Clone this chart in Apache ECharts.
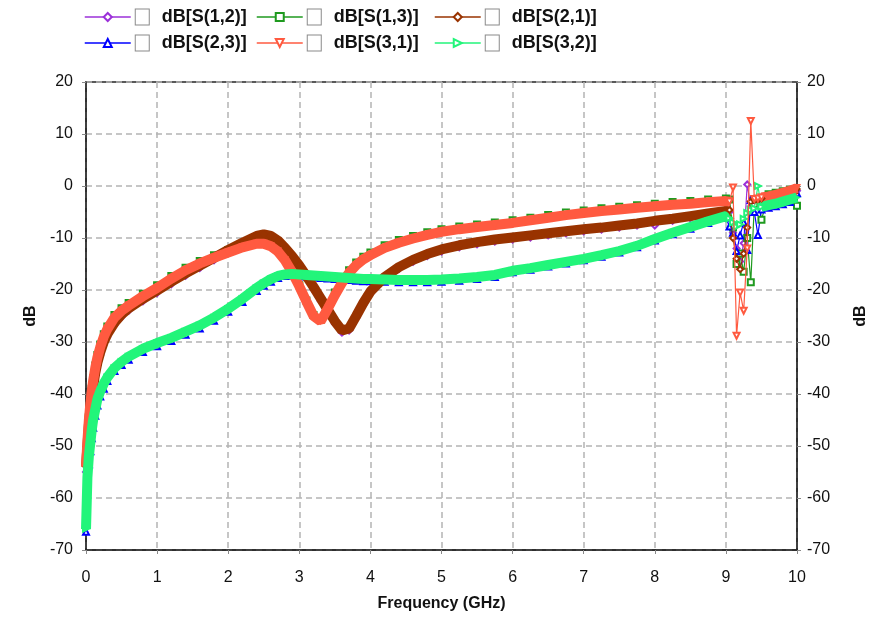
<!DOCTYPE html>
<html>
<head>
<meta charset="utf-8">
<script src="https://cdn.jsdelivr.net/npm/echarts@6/dist/echarts.min.js"></script>
<style>
  html, body { margin: 0; padding: 0; background: #fff; }
  #chart { width: 870px; height: 617px; }
</style>
</head>
<body>
<div id="chart"></div>
<script>
// frequency points (GHz)
var freq = [0, 0.02, 0.04, 0.06, 0.08, 0.1, 0.13, 0.16, 0.2, 0.25, 0.3, 0.4, 0.5, 0.6, 0.8,
  1.0, 1.2, 1.4, 1.6, 1.8, 2.0, 2.2, 2.4,
  2.5, 2.6, 2.7, 2.8, 2.9, 3.0, 3.1, 3.2, 3.3, 3.4, 3.5, 3.6, 3.7, 3.8, 3.9, 4.0,
  4.2, 4.4, 4.6, 4.8, 5.0,
  5.25, 5.5, 5.75, 6.0, 6.25, 6.5, 6.75, 7.0, 7.25, 7.5, 7.75, 8.0, 8.25, 8.5, 8.75, 9.0,
  9.05, 9.1, 9.15, 9.2, 9.25, 9.3, 9.35, 9.4, 9.45,
  9.5, 9.6, 9.7, 9.8, 9.9, 10.0];

var s12 = [-55, -50.5, -46.5, -43.5, -41, -39, -36.5, -34.5, -32.5, -30.5, -29, -26.8, -25.2, -24, -22.2,
  -20.6, -18.9, -17.3, -15.8, -14.3, -12.8, -11.4, -10.1,
  -9.8, -10.1, -11.0, -12.4, -14.0, -15.8, -17.8, -19.9, -22.1, -24.3, -26.5, -28.2, -27.8, -25.4, -22.9, -20.7,
  -17.9, -16.0, -14.6, -13.5, -12.6,
  -11.8, -11.2, -10.7, -10.3, -9.9, -9.5, -9.1, -8.7, -8.4, -8.0, -7.6, -7.6, -6.7, -6.2, -5.7, -5.2,
  -5.0, -9, -12, -14.5, -11, 0.3, -4, -3.2, -3.0,
  -2.8, -2.5, -2.2, -1.8, -1.4, -0.9];

var s13 = [-53, -48.5, -44.5, -41.5, -39, -37, -34.5, -32.5, -30.5, -28.5, -27, -24.8, -23.5, -22.5, -20.7,
  -19.1, -17.3, -15.7, -14.4, -13.3, -12.3, -11.3, -10.6,
  -10.6, -11.1, -12.2, -14.0, -16.4, -19.1, -22.0, -24.8, -25.7, -23.2, -20.5, -18.1, -16.2, -14.7, -13.6, -12.8,
  -11.4, -10.4, -9.6, -8.9, -8.3,
  -7.8, -7.4, -7.0, -6.6, -6.1, -5.6, -5.1, -4.7, -4.3, -4.0, -3.7, -3.4, -3.1, -2.9, -2.6, -2.4,
  -2.6, -8, -15, -13, -16.5, -10, -18.5, -3.5, -2.5,
  -6.5, -1.6, -1.3, -1.0, -0.7, -3.8];

var s21 = [-54, -50, -46, -43, -40.5, -38.5, -36, -34, -32, -30, -28.5, -26.3, -24.7, -23.5, -21.7,
  -20.1, -18.4, -16.8, -15.3, -13.8, -12.3, -10.9, -9.6,
  -9.3, -9.6, -10.5, -11.9, -13.5, -15.3, -17.3, -19.4, -21.6, -23.8, -26.0, -27.8, -27.4, -25.0, -22.5, -20.3,
  -17.5, -15.6, -14.2, -13.1, -12.2,
  -11.4, -10.8, -10.3, -9.9, -9.5, -9.1, -8.7, -8.3, -8.0, -7.6, -7.2, -6.7, -6.3, -5.8, -5.3, -4.8,
  -4.6, -10, -14, -16, -13, -8, -3, -2.7, -2.6,
  -2.4, -2.2, -1.9, -1.5, -1.1, -0.6];

var s23 = [-66.5, -58, -53.5, -51, -48.5, -46.5, -44.2, -42.2, -40.5, -39, -37.5, -35.6, -34.4, -33.4, -31.9,
  -30.8, -29.8, -28.6, -27.4, -25.9, -24.2, -22.3, -20.2,
  -19.2, -18.4, -17.7, -17.3, -17.2, -17.3, -17.4, -17.5, -17.7, -17.8, -17.9, -18.0, -18.1, -18.2, -18.3, -18.3,
  -18.4, -18.5, -18.5, -18.5, -18.4,
  -18.2, -17.9, -17.5, -16.6, -16.1, -15.5, -14.9, -14.3, -13.6, -12.8, -11.8, -10.5, -9.3, -8.2, -7.1, -6.1,
  -7.8, -9, -12.5, -9.5, -7, -12.3, -2.7, -5, -9.4,
  -4.5, -4.2, -3.9, -3.5, -3.1, -1.4];

var s31 = [-54, -49, -45, -42, -39.5, -37.5, -35, -33, -31, -29, -27.5, -25.3, -24, -23, -21.2,
  -19.6, -17.8, -16.2, -14.9, -13.8, -12.8, -11.8, -11.1,
  -11.1, -11.6, -12.6, -14.3, -16.6, -19.3, -22.2, -25.0, -26.0, -23.6, -21.0, -18.6, -16.7, -15.2, -14.1, -13.3,
  -11.9, -10.9, -10.1, -9.4, -8.8,
  -8.3, -7.9, -7.5, -7.1, -6.6, -6.1, -5.6, -5.2, -4.8, -4.5, -4.2, -3.9, -3.6, -3.4, -3.1, -2.9,
  -3.0, -0.3, -28.8, -20.5, -24, -12, 12.5, -2.5, -2.4,
  -2.2, -2.0, -1.7, -1.3, -0.9, -0.4];

var s32 = [-66, -56, -52, -49.5, -47, -45, -43, -41, -39.5, -38, -36.8, -35, -33.8, -32.8, -31.3,
  -30.2, -29.2, -28.0, -26.8, -25.3, -23.6, -21.7, -19.6,
  -18.7, -17.9, -17.3, -17.0, -16.9, -17.0, -17.1, -17.2, -17.3, -17.4, -17.5, -17.6, -17.7, -17.8, -17.9, -17.9,
  -18.0, -18.1, -18.1, -18.1, -18.0,
  -17.8, -17.5, -17.1, -16.3, -15.8, -15.2, -14.6, -14.0, -13.3, -12.5, -11.5, -10.2, -9.0, -7.9, -6.8, -5.8,
  -6.2, -7.0, -7.8, -7.4, -6.3, -5.2, -4.6, -4.3, 0.0,
  -4.0, -3.7, -3.4, -3.0, -2.6, -2.2];

var names = ['dB[S(1,2)]', 'dB[S(1,3)]', 'dB[S(2,1)]', 'dB[S(2,3)]', 'dB[S(3,1)]', 'dB[S(3,2)]'];

// resonance region near 9.1-9.45 GHz is drawn with thin lines
var chaosFrom = 9.05, chaosTo = 9.5;

function allPts(vals) {
  return freq.map(function (f, i) { return [f, vals[i]]; });
}
function bandPts(vals) {
  return freq.map(function (f, i) { return (f > chaosFrom && f < chaosTo) ? [f, null] : [f, vals[i]]; });
}
function chaosPts(vals) {
  var out = [];
  freq.forEach(function (f, i) { if (f >= chaosFrom && f <= chaosTo) out.push([f, vals[i]]); });
  return out;
}

function thin(name, data, color, symbol, rot, z) {
  return {
    name: name, type: 'line', data: data, z: z,
    symbol: symbol, symbolRotate: rot, symbolSize: 6, showSymbol: true,
    itemStyle: { color: color, borderWidth: 1 },
    lineStyle: { color: color, width: 1.2 },
    animation: false, silent: true
  };
}
function band(name, vals, color, symbol, rot, z) {
  return {
    name: name, type: 'line', data: bandPts(vals), z: z,
    symbol: symbol, symbolRotate: rot, symbolSize: 8, showSymbol: true,
    itemStyle: { color: color },
    lineStyle: { color: color, width: 10 },
    animation: false, silent: true
  };
}

var cPurple = '#9b30d9', cGreen = '#1f9a1f', cBrown = '#993300',
    cBlue = '#0000ff', cRed = '#ff5a40', cLight = '#22f57a';

// thin series first so the legend takes their (hollow) symbols; z sets drawing order
var series = [
  thin(names[0], allPts(s12), cPurple, 'emptyDiamond', 0, 2),
  thin(names[1], allPts(s13), cGreen, 'emptyRect', 0, 2),
  thin(names[3], allPts(s23), cBlue, 'emptyTriangle', 0, 2),
  thin(names[2], chaosPts(s21), cBrown, 'emptyDiamond', 0, 6),
  thin(names[5], chaosPts(s32), cLight, 'emptyTriangle', -90, 6),
  thin(names[4], chaosPts(s31), cRed, 'emptyTriangle', 180, 7),
  band(names[2], s21, cBrown, 'diamond', 0, 3),
  band(names[4], s31, cRed, 'triangle', 180, 4),
  band(names[5], s32, cLight, 'triangle', -90, 5)
];

function legendCol(items, left) {
  return {
    data: items, left: left, top: 8, orient: 'vertical', itemGap: 8, padding: 0,
    itemWidth: 46, itemHeight: 10, selectedMode: false,
    lineStyle: { width: 1.5 },
    itemStyle: { borderWidth: 1.2 },
    formatter: function (n) { return '{box|}{t|' + n + '}'; },
    textStyle: {
      color: '#111', fontFamily: 'Arial', fontSize: 18, fontWeight: 'bold',
      rich: {
        box: { width: 13, height: 15, borderColor: '#8a8a8a', borderWidth: 1, backgroundColor: '#fff' },
        t: { color: '#111', fontFamily: 'Arial', fontSize: 18, fontWeight: 'bold', padding: [0, 0, 0, 13] }
      }
    }
  };
}

var axisText = { color: '#111', fontFamily: 'Arial', fontSize: 16 };
var dashed = { show: true, lineStyle: { color: '#b4b4b4', type: [6, 4], width: 1.5 } };

var option = {
  backgroundColor: '#fff',
  animation: false,
  legend: [
    legendCol([names[0], names[3]], 84),
    legendCol([names[1], names[4]], 256),
    legendCol([names[2], names[5]], 434)
  ],
  grid: {
    left: 86, right: 73, top: 82, bottom: 67, outerBoundsMode: 'none',
    show: true, borderColor: '#222', borderWidth: 1.5, backgroundColor: '#fff'
  },
  xAxis: {
    type: 'value', min: 0, max: 10, interval: 1,
    name: 'Frequency (GHz)', nameLocation: 'middle', nameGap: 46,
    nameTextStyle: { color: '#111', fontFamily: 'Arial', fontSize: 16, fontWeight: 'bold' },
    axisLine: { show: true, onZero: false, lineStyle: { color: '#222', width: 1.5 } },
    axisTick: { show: true, length: 4, lineStyle: { color: '#888' } },
    axisLabel: Object.assign({ margin: 20 }, axisText),
    splitLine: dashed
  },
  yAxis: [{
    type: 'value', min: -70, max: 20, interval: 10, position: 'left',
    name: 'dB', nameLocation: 'middle', nameGap: 46, nameRotate: 90,
    nameTextStyle: { color: '#111', fontFamily: 'Arial', fontSize: 16, fontWeight: 'bold' },
    axisLine: { show: true, onZero: false, lineStyle: { color: '#222', width: 1.5 } },
    axisTick: { show: true, length: 4, lineStyle: { color: '#888' } },
    axisLabel: Object.assign({ margin: 13 }, axisText),
    splitLine: dashed
  }, {
    type: 'value', min: -70, max: 20, interval: 10, position: 'right',
    name: 'dB', nameLocation: 'middle', nameGap: 56, nameRotate: 90,
    nameTextStyle: { color: '#111', fontFamily: 'Arial', fontSize: 16, fontWeight: 'bold' },
    axisLine: { show: true, onZero: false, lineStyle: { color: '#222', width: 1.5 } },
    axisTick: { show: true, length: 4, lineStyle: { color: '#888' } },
    axisLabel: Object.assign({ margin: 10 }, axisText),
    splitLine: { show: false }
  }],
  series: series
};

var myChart = echarts.init(document.getElementById('chart'));
myChart.setOption(option);
</script>
</body>
</html>
